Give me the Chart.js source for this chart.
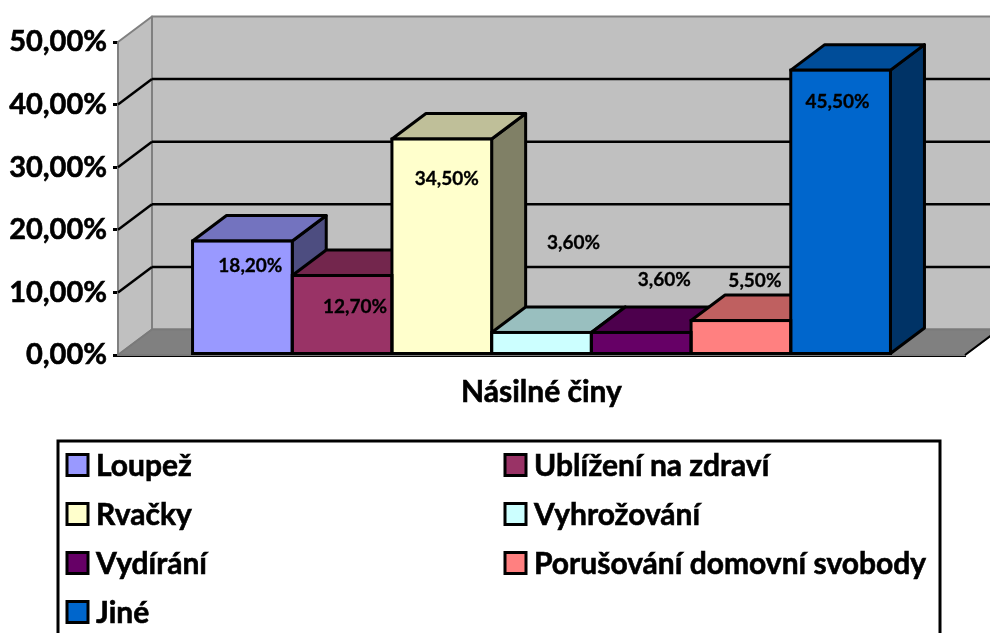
<!DOCTYPE html>
<html>
<head>
<meta charset="utf-8">
<style>
  html, body { margin: 0; padding: 0; background: #fff; overflow: hidden; }
  canvas { display: block; }
</style>
<script src="https://cdn.jsdelivr.net/npm/chart.js@4"></script>
</head>
<body>
<canvas id="chart" width="990" height="633"></canvas>
<script>
// Chart data
const categories = ['Násilné činy'];
const seriesNames = ['Loupež', 'Ublížení na zdraví', 'Rvačky', 'Vyhrožování', 'Vydírání', 'Porušování domovní svobody', 'Jiné'];
const seriesValues = [18.2, 12.7, 34.5, 3.6, 3.6, 5.5, 45.5];
const seriesColors = ['#9999ff', '#993366', '#ffffcc', '#ccffff', '#660066', '#ff8080', '#0066cc'];

// Where the value labels sit, relative to the top centre of their bar
const labelShiftX = [8, 13, 5, 32, 23, 14, -3];
const labelShiftY = [25, 31, 40, -90, -53, -40, 32];

// Depth of the fake 3D box
const depthX = 34;
const depthY = 25.5;
const fontName = 'Lato, sans-serif';

function percent(v) {
    return v.toFixed(2).replace('.', ',') + '%';
}

// Darken a #rrggbb colour for the top and side faces
function shade(hex, f) {
    const n = parseInt(hex.slice(1), 16);
    const r = Math.round((n >> 16) * f);
    const g = Math.round(((n >> 8) & 255) * f);
    const b = Math.round((n & 255) * f);
    return `rgb(${r},${g},${b})`;
}

function face(ctx, points, fill, stroke, width) {
    ctx.beginPath();
    points.forEach((p, i) => i ? ctx.lineTo(p[0], p[1]) : ctx.moveTo(p[0], p[1]));
    ctx.closePath();
    if (fill) { ctx.fillStyle = fill; ctx.fill(); }
    if (stroke) { ctx.strokeStyle = stroke; ctx.lineWidth = width; ctx.stroke(); }
}

function line(ctx, x1, y1, x2, y2, color, width) {
    ctx.beginPath();
    ctx.moveTo(x1, y1);
    ctx.lineTo(x2, y2);
    ctx.strokeStyle = color;
    ctx.lineWidth = width;
    ctx.stroke();
}

// Lato bold is lighter than the original font, a thin outline thickens it
function heavyText(ctx, text, x, y, width) {
    ctx.lineWidth = width;
    ctx.strokeStyle = '#000';
    ctx.fillStyle = '#000';
    ctx.strokeText(text, x, y);
    ctx.fillText(text, x, y);
}

// Walls, floor, gridlines and the top and side of every bar
const box3d = {
    id: 'box3d',
    beforeDatasetsDraw(chart) {
        const ctx = chart.ctx;
        const { left, right } = chart.chartArea;
        const y = chart.scales.y;
        const top = y.getPixelForValue(50);
        const zero = y.getPixelForValue(0);

        ctx.save();
        ctx.lineJoin = 'round';
        // back wall and left wall
        face(ctx, [[left + depthX, top - depthY], [right + depthX, top - depthY], [right + depthX, zero - depthY], [left + depthX, zero - depthY]], '#c0c0c0', '#808080', 2);
        face(ctx, [[left, top], [left + depthX, top - depthY], [left + depthX, zero - depthY], [left, zero]], '#c0c0c0', '#808080', 2);
        // floor
        face(ctx, [[left, zero], [left + depthX, zero - depthY], [right + depthX, zero - depthY], [right, zero]], '#808080', '#7a7a7a', 2);
        line(ctx, right, zero, right + depthX, zero - depthY, '#000', 2);

        // gridlines, the 0 and 50 ones stay in the wall's grey
        y.ticks.forEach(t => {
            if (t.value === 0 || t.value === 50) return;
            const py = y.getPixelForValue(t.value);
            line(ctx, left, py, left + depthX, py - depthY, '#000', 2.5);
            line(ctx, left + depthX, py - depthY, right + depthX, py - depthY, '#000', 2.5);
        });

        // top and side of the bars, left to right so later ones paint over
        chart.data.datasets.forEach((ds, i) => {
            const bar = chart.getDatasetMeta(i).data[0];
            const x1 = bar.x - bar.width / 2;
            const x2 = bar.x + bar.width / 2;
            const color = ds.backgroundColor;
            face(ctx, [[x2, bar.y], [x2 + depthX, bar.y - depthY], [x2 + depthX, bar.base - depthY], [x2, bar.base]], shade(color, 0.5), '#000', 3);
            face(ctx, [[x1, bar.y], [x1 + depthX, bar.y - depthY], [x2 + depthX, bar.y - depthY], [x2, bar.y]], shade(color, 0.75), '#000', 3);
        });
        ctx.restore();
    },
    afterDatasetsDraw(chart) {
        const ctx = chart.ctx;
        ctx.save();
        // outline the fronts here, the library's inner borders double up where bars touch
        chart.data.datasets.forEach((ds, i) => {
            const bar = chart.getDatasetMeta(i).data[0];
            ctx.strokeStyle = '#000';
            ctx.lineWidth = 3;
            ctx.strokeRect(bar.x - bar.width / 2, bar.y, bar.width, bar.base - bar.y);
        });
        ctx.font = `bold 19px ${fontName}`;
        ctx.textAlign = 'center';
        ctx.textBaseline = 'middle';
        chart.data.datasets.forEach((ds, i) => {
            const bar = chart.getDatasetMeta(i).data[0];
            heavyText(ctx, percent(ds.data[0]), bar.x + labelShiftX[i], bar.y + labelShiftY[i], 0.3);
        });
        ctx.restore();
    },
    // Two column legend in a box that runs off the bottom of the page
    afterDraw(chart) {
        const ctx = chart.ctx;
        ctx.save();
        ctx.strokeStyle = '#000';
        ctx.lineWidth = 3;
        ctx.strokeRect(58, 441, 882, 220);
        ctx.font = `bold 30px ${fontName}`;
        ctx.textBaseline = 'middle';
        chart.data.datasets.forEach((ds, i) => {
            const col = i % 2;
            const row = Math.floor(i / 2);
            const kx = col ? 505 : 67;
            const ky = 465 + row * 49;
            ctx.fillStyle = ds.backgroundColor;
            ctx.strokeStyle = '#000';
            ctx.lineWidth = 3;
            ctx.fillRect(kx, ky - 10.5, 21, 21);
            ctx.strokeRect(kx, ky - 10.5, 21, 21);
            heavyText(ctx, ds.label, kx + 29, ky + 1, 0.6);
        });
        ctx.restore();
    }
};

new Chart(document.getElementById('chart'), {
    type: 'bar',
    data: {
        labels: categories,
        datasets: seriesNames.map((name, i) => ({
            label: name,
            data: [seriesValues[i]],
            backgroundColor: seriesColors[i],
            borderWidth: 0
        }))
    },
    plugins: [box3d],
    options: {
        responsive: false,
        animation: false,
        layout: { padding: { top: 42, right: 25, bottom: 0, left: 0 } },
        categoryPercentage: 0.824,
        barPercentage: 1,
        plugins: { legend: { display: false }, title: { display: false }, tooltip: { enabled: false } },
        scales: {
            x: {
                afterFit(scale) { scale.height = 278; },
                grid: { drawOnChartArea: false, drawTicks: false },
                border: { color: '#000', width: 3 },
                ticks: {
                    color: '#000',
                    padding: 19,
                    textStrokeColor: '#000',
                    textStrokeWidth: 0.6,
                    font: { family: fontName, size: 30, weight: 'bold' }
                }
            },
            y: {
                min: 0,
                max: 50,
                afterFit(scale) { scale.width = 118; },
                grid: { drawOnChartArea: false, color: '#000', lineWidth: 3, tickLength: 5 },
                border: { color: '#000', width: 3 },
                ticks: {
                    stepSize: 10,
                    color: '#000',
                    padding: 6,
                    textStrokeColor: '#000',
                    textStrokeWidth: 0.6,
                    font: { family: fontName, size: 29, weight: 'bold' },
                    callback: v => percent(v)
                }
            }
        }
    }
});
</script>
</body>
</html>
